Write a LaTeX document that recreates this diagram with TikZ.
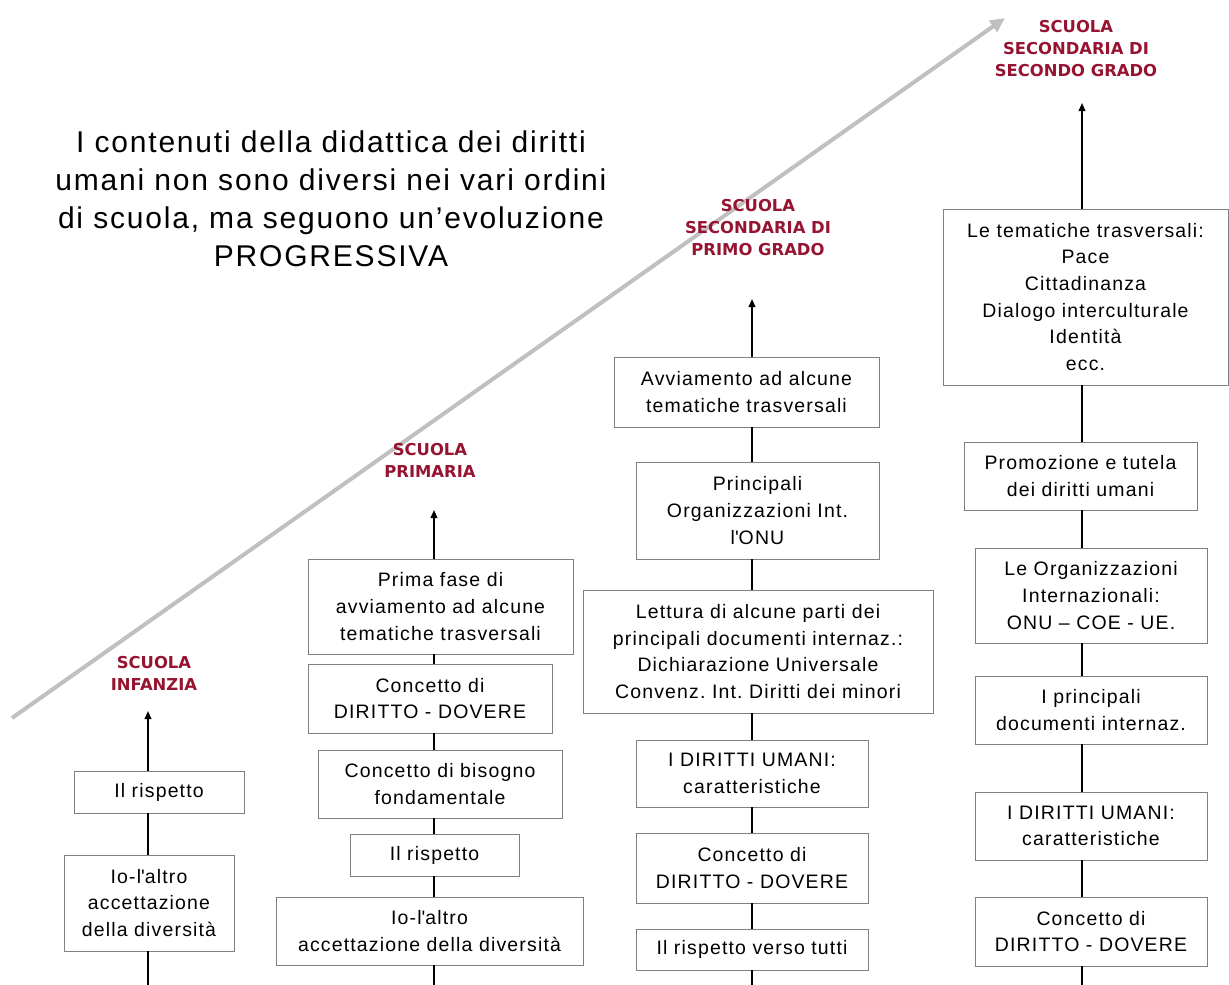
\documentclass[tikz,border=0pt]{standalone}
\usepackage{fontspec}
\setmainfont{Liberation Sans}[LetterSpace=6]
\newfontfamily\headfont{DejaVu Sans}
\usepackage{tikz}
\usetikzlibrary{arrows.meta}
\definecolor{rossoscuola}{RGB}{150,20,50}
\definecolor{bordo}{RGB}{128,128,128}
\definecolor{grigiofreccia}{RGB}{192,192,192}
\frenchspacing

\begin{document}
\begin{tikzpicture}
	[
	x=0.75pt, y=-0.75pt,
	box/.style 2 args={draw=bordo, line width=0.7pt, fill=white, align=center, inner sep=1pt,
		minimum width=#1*0.75pt, minimum height=#2*0.75pt, font=\fontsize{14.6}{20}\selectfont},
	grado/.style={text=rossoscuola, align=center, font=\headfont\bfseries\fontsize{12.3}{16.5}\selectfont},
	asse/.style={line width=1.2pt},
	salita/.style={asse, -{Triangle[length=6pt, width=5pt]}},
	progresso/.style={draw=grigiofreccia, line width=3pt, -{Triangle[length=11pt, width=10pt]}}
	]
	\fill[white] (0,0) rectangle (1229,985);
	\useasboundingbox (0,0) rectangle (1229,985);

	% freccia grigia di progressione
	\coordinate (inizio) at (12,718);
	\coordinate (fine) at (1005,18);
	\draw[progresso] (inizio) -- (fine);

	\node[align=center, font=\fontsize{22.5}{28.5}\selectfont] (intro) at (331,199)
		{I contenuti della didattica dei diritti\\umani non sono diversi nei vari ordini\\di scuola, ma seguono un’evoluzione\\PROGRESSIVA};

	% scuola infanzia
	\coordinate (fin) at (148,985);
	\coordinate (tin) at (148,711);
	\node[grado] (hin) at (154,673.5) {SCUOLA\\INFANZIA};
	\node[box={170}{42}] (in1) at (159,792) {Il rispetto};
	\node[box={170}{96}] (in2) at (149,903) {Io-l\textquotesingle altro\\accettazione\\della diversità};
	\draw[asse] (fin) -- (in2.south -| fin);
	\draw[asse] (in2.north -| fin) -- (in1.south -| fin);
	\draw[salita] (in1.north -| fin) -- (tin);

	% scuola primaria
	\coordinate (fpr) at (434,985);
	\coordinate (tpr) at (434,510);
	\node[grado] (hpr) at (430,460.5) {SCUOLA\\PRIMARIA};
	\node[box={265}{95}] (pr1) at (440.5,606.5) {Prima fase di\\avviamento ad alcune\\tematiche trasversali};
	\node[box={244}{69}] (pr2) at (430,698.5) {Concetto di\\DIRITTO - DOVERE};
	\node[box={244}{68}] (pr3) at (440,784) {Concetto di bisogno\\fondamentale};
	\node[box={169}{42}] (pr4) at (434.5,855) {Il rispetto};
	\node[box={307}{68}] (pr5) at (429.5,931) {Io-l\textquotesingle altro\\accettazione della diversità};
	\draw[asse] (fpr) -- (pr5.south -| fpr);
	\foreach \a/\b in {pr5/pr4, pr4/pr3, pr3/pr2, pr2/pr1}
		\draw[asse] (\a.north -| fpr) -- (\b.south -| fpr);
	\draw[salita] (pr1.north -| fpr) -- (tpr);

	% scuola secondaria di primo grado
	\coordinate (fsp) at (752,985);
	\coordinate (tsp) at (752,299);
	\node[grado] (hsp) at (758,227.5) {SCUOLA\\SECONDARIA DI\\PRIMO GRADO};
	\node[box={265}{70}] (sp1) at (746.5,392) {Avviamento ad alcune\\tematiche trasversali};
	\node[box={243}{97}] (sp2) at (757.5,510.5) {Principali\\Organizzazioni Int.\\l\textquotesingle ONU};
	\node[box={350}{123}] (sp3) at (758,651.5) {Lettura di alcune parti dei\\principali documenti internaz.:\\Dichiarazione Universale\\Convenz. Int. Diritti dei minori};
	\node[box={232}{67}] (sp4) at (752,773.5) {I DIRITTI UMANI:\\caratteristiche};
	\node[box={232}{70}] (sp5) at (752,868) {Concetto di\\DIRITTO - DOVERE};
	\node[box={232}{41}] (sp6) at (752,949.5) {Il rispetto verso tutti};
	\draw[asse] (fsp) -- (sp6.south -| fsp);
	\foreach \a/\b in {sp6/sp5, sp5/sp4, sp4/sp3, sp3/sp2, sp2/sp1}
		\draw[asse] (\a.north -| fsp) -- (\b.south -| fsp);
	\draw[salita] (sp1.north -| fsp) -- (tsp);

	% scuola secondaria di secondo grado
	\coordinate (fss) at (1082,985);
	\coordinate (tss) at (1082,103);
	\node[grado] (hss) at (1076,49) {SCUOLA\\SECONDARIA DI\\SECONDO GRADO};
	\node[box={285}{176}] (ss1) at (1085.5,297) {Le tematiche trasversali:\\Pace\\Cittadinanza\\Dialogo interculturale\\Identità\\ecc.};
	\node[box={233}{68}] (ss2) at (1080.5,476) {Promozione e tutela\\dei diritti umani};
	\node[box={232}{95}] (ss3) at (1091,595.5) {Le Organizzazioni\\Internazionali:\\ONU – COE - UE.};
	\node[box={232}{68}] (ss4) at (1091,710) {I principali\\documenti internaz.};
	\node[box={232}{68}] (ss5) at (1091,826) {I DIRITTI UMANI:\\caratteristiche};
	\node[box={232}{69}] (ss6) at (1091,931.5) {Concetto di\\DIRITTO - DOVERE};
	\draw[asse] (fss) -- (ss6.south -| fss);
	\foreach \a/\b in {ss6/ss5, ss5/ss4, ss4/ss3, ss3/ss2, ss2/ss1}
		\draw[asse] (\a.north -| fss) -- (\b.south -| fss);
	\draw[salita] (ss1.north -| fss) -- (tss);
\end{tikzpicture}
\end{document}
